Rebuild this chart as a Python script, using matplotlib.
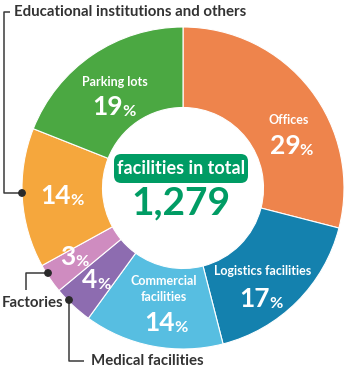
import matplotlib
matplotlib.use("Agg")
import matplotlib.pyplot as plt
from matplotlib.patches import FancyBboxPatch, Circle

# Share of facilities by use (percent)
categories = ["Offices", "Logistics facilities", "Commercial facilities",
              "Medical facilities", "Factories",
              "Educational institutions and others", "Parking lots"]
shares = [29, 17, 14, 4, 3, 14, 19]
colors = ["#EE844C", "#1481AE", "#57BEE1", "#8D6CB0", "#CF8CC0",
          "#F5A73D", "#4BA842"]
total_label = "facilities in total"
total_value = "1,279"

FONT = "Lato"
DARK = "#333333"
GREEN = "#009C64"

W, H = 346, 370
fig = plt.figure(figsize=(W / 100, H / 100), dpi=100)
ax = fig.add_axes([0, 0, 1, 1])

# pixel -> data helper (donut centre at pixel (183, 188), radius 161 px)
CX, CY, S = 183.0, 188.0, 161.0


def P(x, y):
    return ((x - CX) / S, (CY - y) / S)


ax.pie(shares, colors=colors, startangle=90, counterclock=False,
       radius=1.0, wedgeprops=dict(width=0.5, edgecolor="white", linewidth=0.8))

ax.set_xlim(-CX / S, (W - CX) / S)
ax.set_ylim(-(H - CY) / S, CY / S)
ax.set_aspect("equal")
ax.axis("off")


def pct(x, y, value, size=19):
    t = ax.text(*P(x - 5, y), f"{value}", ha="center", va="center",
                fontsize=size, fontweight="bold", color="white", family=FONT)
    ax.annotate("%", xy=(1, 0.14), xycoords=t, xytext=(-0.5, 0),
                textcoords="offset points", ha="left", va="baseline",
                fontsize=size * 0.62, fontweight="bold", color="white",
                family=FONT)


def name(x, y, s, size=9):
    ax.text(*P(x, y), s, ha="center", va="center", fontsize=size,
            fontweight="bold", color="white", family=FONT,
            linespacing=1.35)


# in-wedge labels
name(289, 120, "Offices")
pct(290, 146, shares[0])
name(263, 271, "Logistics facilities")
pct(260, 299, shares[1])
name(164, 289, "Commercial\nfacilities")
pct(165, 323, shares[2])
pct(95, 280, shares[3])
pct(73, 257, shares[4])
pct(61, 196, shares[5])
name(115, 82, "Parking lots")
pct(113, 107, shares[6])

# centre badge
bx0, by0 = P(114, 183)
bx1, by1 = P(248, 154)
badge = FancyBboxPatch((bx0, by0), bx1 - bx0, by1 - by0,
                       boxstyle="round,pad=0,rounding_size=0.045",
                       facecolor=GREEN, edgecolor="none")
ax.add_patch(badge)
ax.text(*P(181, 168), total_label, ha="center", va="center", fontsize=13,
        fontweight="bold", color="white", family=FONT)
ax.text(*P(181, 203), total_value, ha="center", va="center", fontsize=28,
        fontweight="bold", color=GREEN, family=FONT)

# leader lines for outside labels
lk = dict(color="#3a3a3a", lw=1.1, solid_capstyle="butt")


def line(*pts):
    xs, ys = zip(*[P(*p) for p in pts])
    ax.plot(xs, ys, **lk)


def dot(x, y):
    ax.add_patch(Circle(P(x, y), 3.2 / S, color="#2a2a2a", zorder=5))


line((10, 12), (4.5, 12), (4.5, 193), (22, 193))
dot(22, 193)
ax.text(*P(14, 12), categories[5], ha="left", va="center", fontsize=10.8,
        fontweight="bold", color=DARK, family=FONT)

line((48, 273), (26.5, 273), (26.5, 290))
dot(48, 273)
ax.text(*P(2, 303), categories[4], ha="left", va="center", fontsize=10.8,
        fontweight="bold", color=DARK, family=FONT)

line((69, 300), (69, 361), (84, 361))
dot(69, 300)
ax.text(*P(91, 361), categories[3], ha="left", va="center", fontsize=10.8,
        fontweight="bold", color=DARK, family=FONT)

fig.savefig("out.png", dpi=100)
